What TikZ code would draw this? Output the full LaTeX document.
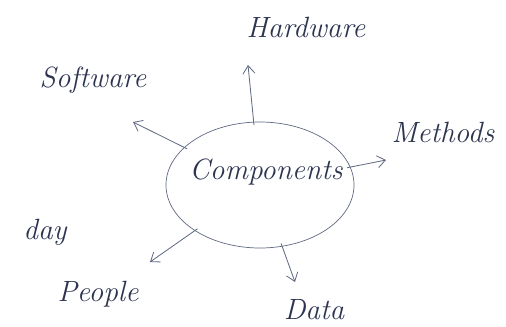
\documentclass[tikz,border=0pt]{standalone}
\usetikzlibrary{shapes.geometric,arrows.meta}

\definecolor{ink}{RGB}{45,52,80}
\definecolor{pencil}{RGB}{95,105,130}

\tikzset{
  lbl/.style={text=ink, font=\fontsize{25}{29}\selectfont\itshape, inner sep=0pt},
  hub/.style={ellipse, draw=pencil, line width=0.6pt, minimum width=56.4mm, minimum height=37.8mm},
  spoke/.style={-{Straight Barb[length=2.4mm,width=3.6mm]}, draw=pencil, line width=0.7pt, shorten <=-1mm}
}

\begin{document}
\begin{tikzpicture}[x=0.3mm, y=-0.3mm]
        \useasboundingbox (0,0) rectangle (506,326);

        % centre
        \node[hub] (comp) at (260,185) {};
        \node[lbl] (comptxt) at (266,172) {Components};

        % labels round it
        \node[lbl] (hw) at (306,27) {Hardware};
        \node[lbl] (sw) at (93,80) {Software};
        \node[lbl] (meth) at (443,132) {Methods};
        \node[lbl] (day) at (45,232) {day};
        \node[lbl] (ppl) at (98,294) {People};
        \node[lbl] (data) at (314,310) {Data};

        % arrow tips
        \coordinate (hwtip) at (248,65);
        \coordinate (swtip) at (133,122);
        \coordinate (methtip) at (386,160);
        \coordinate (ppltip) at (150,262);
        \coordinate (datatip) at (295,282);

        % spokes
        \draw[spoke] (comp) -- (hwtip);
        \draw[spoke] (comp) -- (swtip);
        \draw[spoke] (comp) -- (methtip);
        \draw[spoke] (comp) -- (ppltip);
        \draw[spoke] (comp) -- (datatip);
\end{tikzpicture}
\end{document}
